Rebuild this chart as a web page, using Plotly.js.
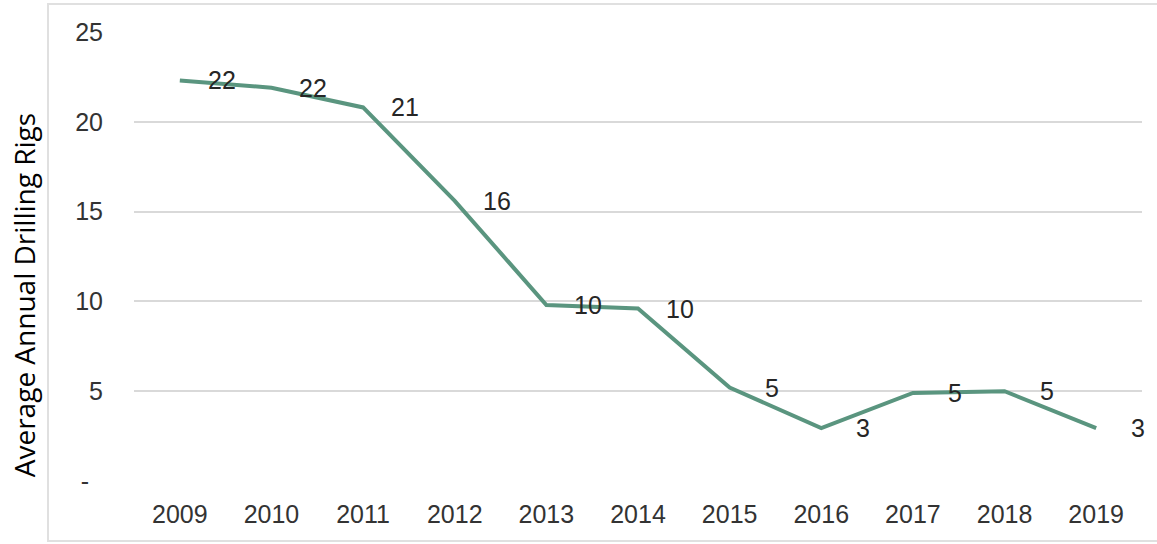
<!DOCTYPE html>
<html>
<head>
<meta charset="utf-8">
<script src="https://cdn.plot.ly/plotly-3.0.1.min.js"></script>
<style>html,body{margin:0;padding:0;background:#fff;}#chart{width:1157px;height:544px;}</style>
</head>
<body>
<div id="chart"></div>
<script>
const years = ['2009','2010','2011','2012','2013','2014','2015','2016','2017','2018','2019'];
const rigs = [22.3, 21.9, 20.8, 15.6, 9.8, 9.6, 5.2, 2.95, 4.9, 5.0, 2.95];
const labels = ['22','22','21','16','10','10','5','3','5','5','3'];
const yTickVals = [0, 5, 10, 15, 20, 25];
const yTickText = ['-\u00a0\u00a0', '5', '10', '15', '20', '25'];
const yTitle = 'Average Annual Drilling Rigs';

const trace = {
  x: years.map((_, i) => i), y: rigs, type: 'scatter', mode: 'lines',
  line: {color: '#5a957f', width: 4},
  hoverinfo: 'skip'
};

const annotations = years.map((yr, i) => ({
  x: i, y: rigs[i], xref: 'x', yref: 'y', text: labels[i],
  showarrow: false, xanchor: 'center', yanchor: 'middle', xshift: 42, yshift: 0,
  font: {family: 'Liberation Sans, Arial, sans-serif', size: 25, color: '#262626'}
}));
annotations.push({
  x: -0.109, y: 0.414, xref: 'paper', yref: 'paper', text: yTitle, textangle: -90,
  showarrow: false, xanchor: 'center', yanchor: 'middle',
  font: {family: 'Open Sans, sans-serif', size: 28, color: '#000000'}
});

const layout = {
  width: 1157, height: 544,
  margin: {l: 134, r: 15, t: 32, b: 63},
  paper_bgcolor: '#ffffff', plot_bgcolor: '#ffffff',
  showlegend: false,
  xaxis: {
    type: 'linear', range: [-0.5, 10.5], tickvals: years.map((_, i) => i), ticktext: years,
    showgrid: false, zeroline: false, showline: false, ticks: '',
    ticklabelstandoff: 16,
    tickfont: {family: 'Liberation Sans, Arial, sans-serif', size: 25, color: '#333333'}
  },
  yaxis: {
    range: [0, 25], tickvals: yTickVals, ticktext: yTickText,
    showgrid: true, gridcolor: '#d9d9d9', gridwidth: 2, zeroline: false, showline: false, ticks: '',
    ticklabelstandoff: 30,
    tickfont: {family: 'Liberation Sans, Arial, sans-serif', size: 25, color: '#333333'}
  },
  annotations: annotations,
  shapes: [{
    type: 'rect', xref: 'paper', yref: 'paper',
    x0: -0.0853, x1: 1.02, y0: -0.1336, y1: 1.0624,
    line: {color: '#e0e0e0', width: 2}, fillcolor: 'rgba(0,0,0,0)', layer: 'below'
  }]
};

Plotly.newPlot('chart', [trace], layout, {displayModeBar: false, staticPlot: true});
</script>
</body>
</html>
